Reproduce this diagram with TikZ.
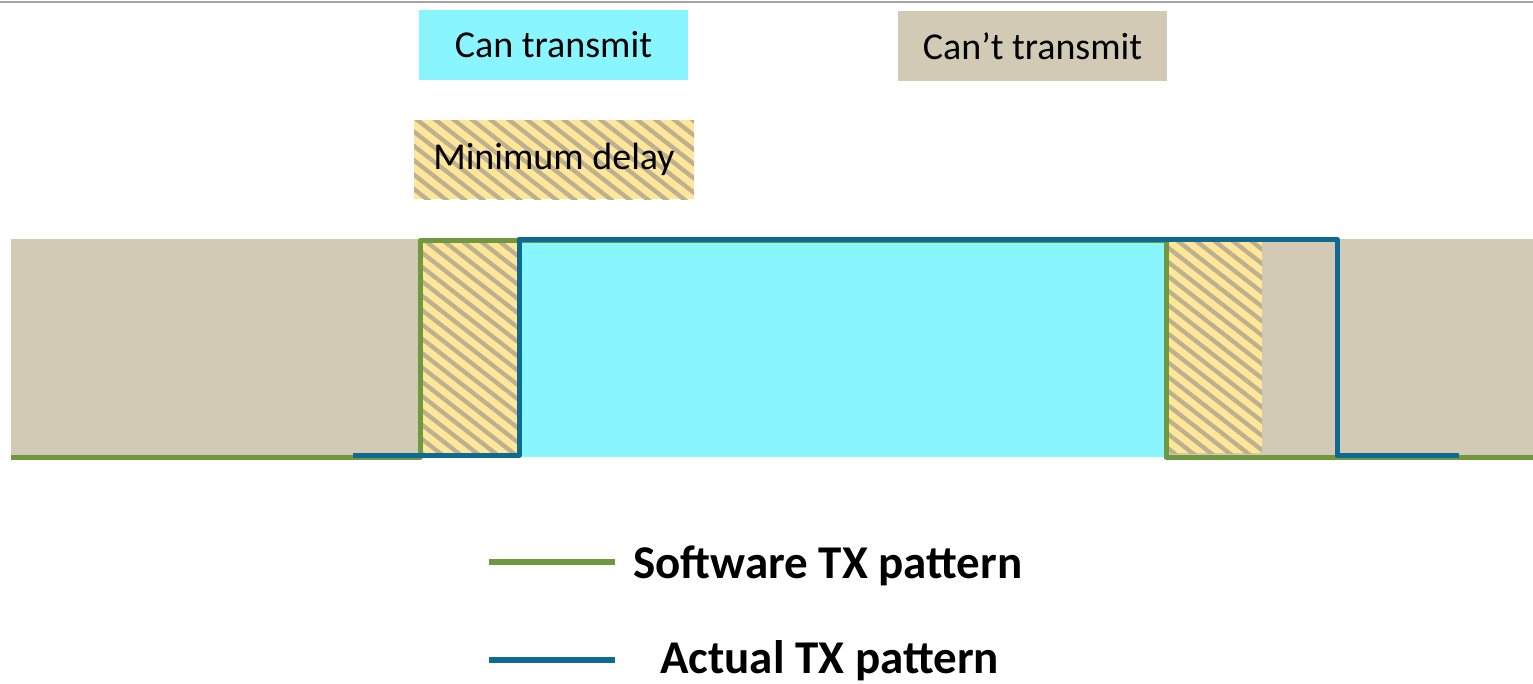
\documentclass[tikz,border=0pt]{standalone}
\usepackage{fontspec}
\setmainfont{Carlito}
\usetikzlibrary{patterns.meta}
\definecolor{txcyan}{HTML}{89F5FF}
\definecolor{txtan}{HTML}{D2CAB4}
\definecolor{txyellow}{HTML}{FFE699}
\definecolor{txstripe}{HTML}{BCB08E}
\definecolor{swgreen}{HTML}{70983E}
\definecolor{actblue}{HTML}{0F6A93}
\definecolor{rulegray}{HTML}{A6A6A6}
\tikzset{
  keybox/.style={inner sep=0pt, minimum width=269pt, minimum height=70pt,
    font=\fontsize{38}{44}\selectfont, text=black},
  hatched/.style={fill=txyellow, postaction={pattern={Lines[angle=-38,distance=11.3pt,line width=4.3pt]}, pattern color=txstripe}},
  wave/.style={line width=5pt, line join=round},
  legendtext/.style={anchor=base west, inner sep=0pt, font=\fontsize{47}{54}\selectfont\bfseries}
}
\begin{document}
\begin{tikzpicture}[x=1pt, y=-1pt]
\useasboundingbox (0,0) rectangle (1533,683);
% header rule
\draw[rulegray, line width=1.6pt] (0,2) -- (1533,2);

% key boxes
\node[keybox, fill=txcyan] (can) at (553.5,45) {Can transmit};
\node[keybox, fill=txtan] (cant) at (1032.5,46) {Can’t transmit};
\node[keybox, hatched, minimum width=280pt, minimum height=79pt] (mindelay) at (554,159.5) {Minimum delay};

% timeline band
\fill[txtan] (11,239) rectangle (1533,457);
\fill[txcyan] (519,239) rectangle (1166,457);
\path[hatched] (420,239) rectangle (519,453);
\path[hatched] (1168,241) rectangle (1262,453);

% software and actual transmit patterns
\draw[wave, swgreen] (11,457) -- (420,457) -- (420,240.5) -- (1166,240.5) -- (1166,457) -- (1533,457);
\draw[wave, actblue] (353,455.5) -- (519,455.5) -- (519,239) -- (1337,239) -- (1337,455.5) -- (1459,455.5);

% legend
\coordinate (swA) at (489,562);
\coordinate (swB) at (615,562);
\coordinate (acA) at (489,660);
\coordinate (acB) at (615,660);
\draw[line width=6pt, swgreen] (swA) -- (swB);
\draw[line width=6pt, actblue] (acA) -- (acB);
\node[legendtext] (swlabel) at (633,578) {Software TX pattern};
\node[legendtext] (aclabel) at (660,673) {Actual TX pattern};
\end{tikzpicture}
\end{document}
